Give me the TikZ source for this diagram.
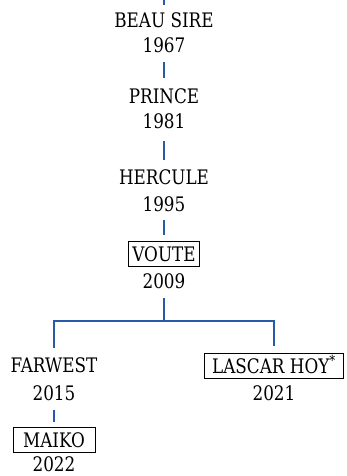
\documentclass[tikz,border=0pt]{standalone}
\usepackage{fontspec}
\setmainfont{DejaVu Serif}[FakeStretch=0.84]
\begin{document}
\begin{tikzpicture}[x=1pt,y=-1pt,
  lbl/.style={inner sep=0pt,text height=14.6pt,text depth=0pt,font=\fontsize{20}{22}\selectfont},
  boxed/.style={lbl,draw=black,line width=0.9pt,inner xsep=3.5pt,inner ysep=5pt},
  conn/.style={draw={rgb,255:red,40;green,90;blue,170},line width=1.1pt}]
\useasboundingbox (0,0) rectangle (346,476);
\coordinate (top) at (164,0);
\node[lbl] (beau) at (164,20) {BEAU SIRE};
\node[lbl] (y1967) at (164,45) {1967};
\node[lbl] (prince) at (164,96) {PRINCE};
\node[lbl] (y1981) at (164,121) {1981};
\node[lbl] (hercule) at (164,177) {HERCULE};
\node[lbl] (y1995) at (164,204) {1995};
\node[boxed] (voute) at (164,254) {VOUTE};
\node[lbl] (y2009) at (164,281) {2009};
\coordinate (j) at (164,321);
\node[lbl] (farwest) at (54,365) {FARWEST};
\node[lbl] (y2015) at (54,393) {2015};
\node[boxed,minimum width=82pt] (maiko) at (54,440) {MAIKO};
\node[lbl] (y2022) at (54,464) {2022};
\node[boxed,minimum width=139pt] (lascar) at (274,366) {LASCAR HOY\textsuperscript{*}};
\node[lbl] (y2021) at (274,393) {2021};
\draw[conn,shorten >=7pt] (top) -- (beau.north);
\draw[conn,shorten <=10pt,shorten >=10pt] (y1967.south) -- (prince.north);
\draw[conn,shorten <=12pt,shorten >=10pt] (y1981.south) -- (hercule.north);
\draw[conn,shorten <=8pt,shorten >=6pt] (y1995.south) -- (voute.north);
\draw[conn,shorten <=9pt] (y2009.south) -- (j);
\draw[conn,shorten >=10pt] (j) -| (farwest.north);
\draw[conn,shorten >=7pt] (j) -| (lascar.north);
\draw[conn,shorten <=9pt,shorten >=5pt] (y2015.south) -- (maiko.north);
\end{tikzpicture}
\end{document}
